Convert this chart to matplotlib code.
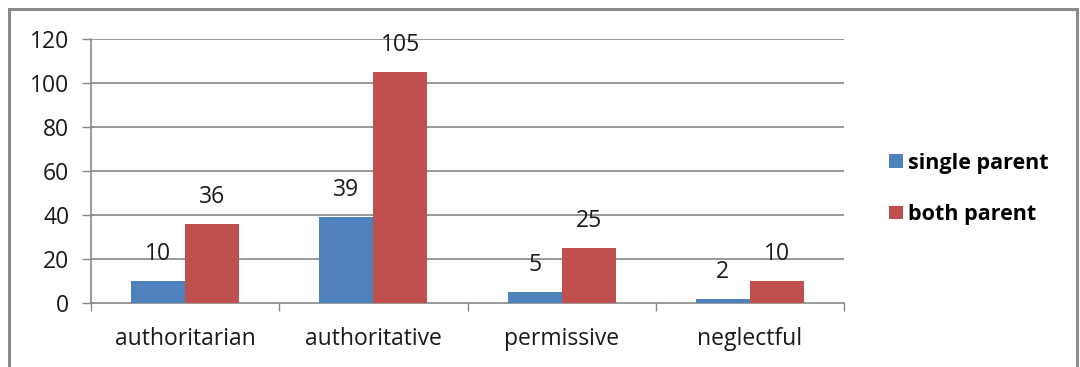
import matplotlib
matplotlib.use("Agg")
import matplotlib.pyplot as plt
from matplotlib.patches import Rectangle, Patch

categories = ["authoritarian", "authoritative", "permissive", "neglectful"]
single_parent = [10, 39, 5, 2]
both_parent = [36, 105, 25, 10]
series_names = ["single parent", "both parent"]
y_ticks = [0, 20, 40, 60, 80, 100, 120]

BLUE = "#4F81BD"
RED = "#C0504D"
GRID = "#878787"
FONT = "Open Sans"
FS = 16.5

W, H = 1080, 367
fig = plt.figure(figsize=(W / 100, H / 100), dpi=100)
fig.patch.set_facecolor("white")

# chart frame (open at the bottom)
fig.patches.append(Rectangle((9 / W, -0.05), (1077 - 9) / W, 1.05 - 9 / H,
                             transform=fig.transFigure, fill=False,
                             edgecolor="#8A8A8A", linewidth=2.2, zorder=0))

left, right, top, bottom = 91, 844, 39, 303
ax = fig.add_axes([left / W, (H - bottom) / H, (right - left) / W, (bottom - top) / H])

x = range(len(categories))
bw = 0.287
xs_single = [i - bw / 2 for i in x]
xs_both = [i + bw / 2 for i in x]
ax.bar(xs_single, single_parent, width=bw, color=BLUE, zorder=3, label=series_names[0])
ax.bar(xs_both, both_parent, width=bw, color=RED, zorder=3, label=series_names[1])

for xs, vals in ((xs_single, single_parent), (xs_both, both_parent)):
    for xi, v in zip(xs, vals):
        ax.annotate(str(v), (xi, v), xytext=(0, 19.5), textcoords="offset points",
                    ha="center", va="center", fontsize=FS, family=FONT, color="#1a1a1a",
                    zorder=4)

ax.set_xlim(-0.5, len(categories) - 0.5)
ax.set_ylim(0, 120)
ax.set_yticks(y_ticks)
ax.set_yticklabels([str(t) for t in y_ticks], fontsize=FS, family=FONT, color="#1a1a1a")
for t in y_ticks[1:]:
    ax.axhline(t, color=GRID, linewidth=1.2, zorder=1)

# category labels between boundary tick marks
ax.set_xticks([i - 0.5 for i in range(len(categories) + 1)])
ax.set_xticklabels([])
ax.set_xticks(list(x), minor=True)
ax.set_xticklabels(categories, minor=True, fontsize=FS, family=FONT, color="#1a1a1a")
ax.tick_params(axis="x", which="major", length=6, width=1, color=GRID, direction="out")
ax.tick_params(axis="x", which="minor", length=0, pad=17)
ax.tick_params(axis="y", length=6.5, width=1, color=GRID, pad=9)

for side in ("top", "right"):
    ax.spines[side].set_visible(False)
for side in ("left", "bottom"):
    ax.spines[side].set_color(GRID)
    ax.spines[side].set_linewidth(1.2)

handles = [Patch(facecolor=BLUE), Patch(facecolor=RED)]
fig.legend(handles, series_names, loc="center left", bbox_to_anchor=(870 / W, (H - 189) / H),
           frameon=False, prop={"family": FONT, "weight": "bold", "size": 15.5},
           handlelength=0.62, handleheight=0.62, handletextpad=0.25, labelspacing=1.4)

fig.savefig("out.png", dpi=100, facecolor="white")
